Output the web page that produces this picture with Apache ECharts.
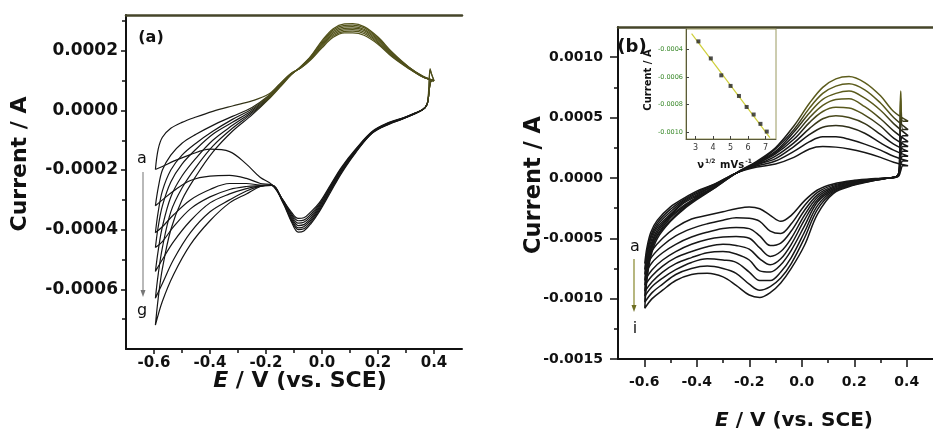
<!DOCTYPE html>
<html>
<head>
<meta charset="utf-8" />
<title>CV curves</title>
<script src="https://cdn.jsdelivr.net/npm/echarts@6.0.0/dist/echarts.min.js"></script>
</head>
<body style="margin:0;background:#fff">
<div id="main" style="width: 933px;height:433px;"></div>
<script type="text/javascript">
var myChart = echarts.init(document.getElementById('main'));

// ---- panel (a): 7 cycles, a..g. forward (anodic) branch, read at these potentials
var aUpE = [-0.595, -0.585, -0.57, -0.54, -0.5, -0.45, -0.39, -0.32, -0.25, -0.19, -0.15, -0.11, -0.075, -0.04, 0.0, 0.04, 0.08, 0.11, 0.15, 0.2, 0.25, 0.31, 0.36, 0.4];
var aUpA = [-0.000198, -0.00013, -0.00009, -0.00006, -0.00004, -0.000022, -0.000003, 0.000015, 0.000032, 0.000055, 0.00009, 0.000125, 0.000143, 0.00017, 0.00021, 0.000245, 0.00026, 0.00026, 0.000252, 0.000222, 0.00018, 0.00014, 0.000112, 0.0001];
var aUpB = [-0.00032, -0.00026, -0.0002, -0.00015, -0.00011, -0.00008, -0.00005, -0.00002, 0.00001, 0.00005, 0.000088, 0.000124, 0.000143, 0.000172, 0.000214, 0.00025, 0.000265, 0.000266, 0.000258, 0.000226, 0.000182, 0.000141, 0.000112, 0.0001];
var aUpC = [-0.00041, -0.00034, -0.00027, -0.0002, -0.00015, -0.00011, -0.00007, -0.00003, 0.000005, 0.000048, 0.000086, 0.000123, 0.000144, 0.000174, 0.000218, 0.000255, 0.00027, 0.000271, 0.000263, 0.00023, 0.000185, 0.000142, 0.000113, 0.0001];
var aUpD = [-0.00046, -0.00039, -0.00032, -0.00024, -0.00018, -0.00013, -0.00008, -0.00004, 0.0, 0.000045, 0.000084, 0.000122, 0.000145, 0.000176, 0.000222, 0.00026, 0.000275, 0.000276, 0.000268, 0.000234, 0.000188, 0.000143, 0.000113, 0.0001];
var aUpE_ = [-0.00054, -0.00047, -0.00039, -0.00029, -0.00022, -0.00016, -0.0001, -0.00005, -0.000005, 0.000042, 0.000082, 0.000121, 0.000146, 0.000178, 0.000226, 0.000265, 0.00028, 0.000281, 0.000272, 0.000238, 0.00019, 0.000144, 0.000114, 0.0001];
var aUpF = [-0.00063, -0.00055, -0.00046, -0.00034, -0.00026, -0.00019, -0.00012, -0.00006, -0.00001, 0.00004, 0.00008, 0.00012, 0.000147, 0.00018, 0.00023, 0.00027, 0.000285, 0.000286, 0.000277, 0.000242, 0.000193, 0.000145, 0.000114, 0.0001];
var aUpG = [-0.00072, -0.00063, -0.00053, -0.0004, -0.0003, -0.00022, -0.00014, -0.00007, -0.000015, 0.000038, 0.000078, 0.000119, 0.000148, 0.000182, 0.000234, 0.000274, 0.00029, 0.000291, 0.000281, 0.000246, 0.000196, 0.000146, 0.000115, 0.0001];

// reverse (cathodic) branch
var aDnE = [0.392, 0.386, 0.381, 0.375, 0.36, 0.33, 0.29, 0.24, 0.18, 0.12, 0.07, 0.03, -0.01, -0.04, -0.065, -0.085, -0.11, -0.14, -0.18, -0.22, -0.27, -0.33, -0.4, -0.47, -0.53, -0.57, -0.595];
var aDnA = [0.00012, 0.00014, 0.00007, 0.00002, 0.000003, -0.00001, -0.000025, -0.00004, -0.00007, -0.00013, -0.00019, -0.00025, -0.00031, -0.00034, -0.00036, -0.000362, -0.00034, -0.0003, -0.000248, -0.000225, -0.00018, -0.000138, -0.00013, -0.000148, -0.00017, -0.000188, -0.000198];
var aDnB = [0.0001, 0.00009, 0.00005, 0.00002, 0.000003, -0.00001, -0.000026, -0.000041, -0.000071, -0.000132, -0.000193, -0.000254, -0.000315, -0.000348, -0.000368, -0.00037, -0.000345, -0.0003, -0.000249, -0.000245, -0.000228, -0.000218, -0.00022, -0.000235, -0.00027, -0.0003, -0.00032];
var aDnC = [0.0001, 0.00009, 0.00005, 0.00002, 0.000003, -0.00001, -0.000026, -0.000042, -0.000072, -0.000134, -0.000196, -0.000258, -0.00032, -0.000355, -0.000375, -0.000378, -0.00035, -0.000301, -0.00025, -0.00025, -0.000245, -0.000245, -0.000265, -0.0003, -0.00035, -0.00039, -0.00041];
var aDnD = [0.0001, 0.00009, 0.00005, 0.00002, 0.000003, -0.000011, -0.000027, -0.000043, -0.000073, -0.000136, -0.0002, -0.000262, -0.000325, -0.000362, -0.000383, -0.000386, -0.000356, -0.000303, -0.00025, -0.000252, -0.000255, -0.000265, -0.00029, -0.00033, -0.00039, -0.00044, -0.00046];
var aDnE_ = [0.0001, 0.00009, 0.00005, 0.00002, 0.000003, -0.000011, -0.000027, -0.000044, -0.000074, -0.000138, -0.000203, -0.000266, -0.00033, -0.000368, -0.00039, -0.000394, -0.000362, -0.000305, -0.00025, -0.000253, -0.000262, -0.00028, -0.00031, -0.00037, -0.00044, -0.0005, -0.00054];
var aDnF = [0.00012, 0.000135, 0.00006, 0.00002, 0.000003, -0.000012, -0.000028, -0.000045, -0.000075, -0.00014, -0.000206, -0.00027, -0.000335, -0.000374, -0.000397, -0.0004, -0.000367, -0.000307, -0.000251, -0.000254, -0.00027, -0.0003, -0.00034, -0.00041, -0.0005, -0.00058, -0.00063];
var aDnG = [0.0001, 0.00009, 0.00005, 0.00002, 0.000003, -0.000012, -0.000028, -0.000046, -0.000076, -0.000142, -0.00021, -0.000275, -0.00034, -0.00038, -0.000404, -0.000408, -0.000372, -0.000309, -0.000251, -0.000255, -0.00028, -0.00031, -0.00037, -0.00045, -0.00055, -0.00064, -0.00072];

// ---- panel (b): 9 cycles, a..i
var bUpE = [-0.598, -0.59, -0.575, -0.55, -0.5, -0.45, -0.4, -0.33, -0.25, -0.17, -0.1, -0.03, 0.03, 0.08, 0.13, 0.18, 0.24, 0.3, 0.35, 0.405];
var bUpA = [-0.00071, -0.00058, -0.00045, -0.00035, -0.00024, -0.00017, -0.00011, -0.00005, 0.00004, 0.00009, 0.000115, 0.00017, 0.00024, 0.00026, 0.000255, 0.00024, 0.00021, 0.00017, 0.00013, 0.0001];
var bUpB = [-0.00076, -0.00062, -0.00048, -0.00037, -0.00026, -0.00018, -0.00012, -0.00005, 0.00004, 0.0001, 0.00014, 0.00022, 0.0003, 0.00034, 0.00034, 0.00032, 0.00028, 0.00023, 0.00018, 0.00014];
var bUpC = [-0.0008, -0.00065, -0.0005, -0.00039, -0.00028, -0.00019, -0.00013, -0.00006, 0.00004, 0.00011, 0.00016, 0.00026, 0.00036, 0.00042, 0.000434, 0.00042, 0.00037, 0.00029, 0.00023, 0.00018];
var bUpD = [-0.00085, -0.00069, -0.00053, -0.00041, -0.0003, -0.0002, -0.00014, -0.00006, 0.00004, 0.00011, 0.00018, 0.00029, 0.00041, 0.00049, 0.000515, 0.0005, 0.00045, 0.00036, 0.00028, 0.00022];
var bUpE_ = [-0.00089, -0.00073, -0.00056, -0.00043, -0.00031, -0.00021, -0.00015, -0.00007, 0.00004, 0.00012, 0.0002, 0.00032, 0.00046, 0.00055, 0.000585, 0.00058, 0.00052, 0.00043, 0.00033, 0.00026];
var bUpF = [-0.00094, -0.00076, -0.00058, -0.00045, -0.00032, -0.00023, -0.00016, -0.00007, 0.00004, 0.00012, 0.00021, 0.00035, 0.0005, 0.0006, 0.00065, 0.000655, 0.00059, 0.00049, 0.00039, 0.0003];
var bUpG = [-0.00098, -0.00079, -0.0006, -0.00047, -0.00033, -0.00024, -0.00017, -0.00007, 0.00004, 0.00013, 0.00022, 0.00038, 0.00054, 0.00065, 0.0007, 0.00072, 0.00066, 0.00056, 0.00045, 0.00035];
var bUpH = [-0.00103, -0.00082, -0.00062, -0.00048, -0.00035, -0.00025, -0.00017, -0.00008, 0.00004, 0.00013, 0.00024, 0.0004, 0.00058, 0.0007, 0.00076, 0.00078, 0.00073, 0.00062, 0.0005, 0.0004];
var bUpI = [-0.00108, -0.00085, -0.00065, -0.0005, -0.00036, -0.00026, -0.00018, -0.00008, 0.00004, 0.00014, 0.00025, 0.00043, 0.00062, 0.00075, 0.00082, 0.00084, 0.00079, 0.00068, 0.00055, 0.00047];

var bDnE = [0.385, 0.377, 0.371, 0.36, 0.33, 0.28, 0.2, 0.12, 0.06, 0.01, -0.04, -0.08, -0.12, -0.16, -0.2, -0.25, -0.3, -0.36, -0.42, -0.48, -0.53, -0.57, -0.598];
var bDnA = [0.0001, 0.00006, 0.00002, 0.000005, 0, -0.000005, -0.00002, -0.00005, -0.0001, -0.00019, -0.00031, -0.00036, -0.00031, -0.000255, -0.00024, -0.000255, -0.00028, -0.00031, -0.00034, -0.00041, -0.0005, -0.0006, -0.00071];
var bDnB = [0.00014, 0.00011, 0.00003, 0.000005, 0, -0.00001, -0.000025, -0.00006, -0.00012, -0.00023, -0.00038, -0.00046, -0.00044, -0.00036, -0.000335, -0.00033, -0.00035, -0.00038, -0.00042, -0.00048, -0.00056, -0.00065, -0.00076];
var bDnC = [0.00018, 0.00015, 0.00004, 0.000008, 0, -0.00001, -0.00003, -0.00007, -0.00014, -0.00027, -0.00044, -0.00054, -0.00056, -0.00048, -0.00042, -0.00041, -0.00042, -0.00045, -0.00049, -0.00055, -0.00062, -0.0007, -0.0008];
var bDnD = [0.00022, 0.00018, 0.00004, 0.000008, 0, -0.000012, -0.000035, -0.00008, -0.00016, -0.00031, -0.0005, -0.00061, -0.00065, -0.00058, -0.0005, -0.000485, -0.00049, -0.00051, -0.00055, -0.00061, -0.00068, -0.00076, -0.00085];
var bDnE_ = [0.00026, 0.00021, 0.00005, 0.00001, 0, -0.000014, -0.00004, -0.00009, -0.00018, -0.00035, -0.00055, -0.00067, -0.00072, -0.00067, -0.00059, -0.00056, -0.00055, -0.00057, -0.00061, -0.00066, -0.00073, -0.00081, -0.00089];
var bDnF = [0.0003, 0.00025, 0.00005, 0.00001, 0, -0.000016, -0.000045, -0.0001, -0.0002, -0.0004, -0.0006, -0.00072, -0.00078, -0.00077, -0.00068, -0.00063, -0.00061, -0.00062, -0.00066, -0.00071, -0.00078, -0.00086, -0.00094];
var bDnG = [0.00035, 0.00029, 0.00005, 0.00001, 0, -0.000018, -0.00005, -0.00011, -0.00023, -0.00045, -0.00066, -0.00078, -0.00085, -0.00085, -0.00078, -0.0007, -0.00068, -0.00067, -0.0007, -0.00076, -0.00083, -0.0009, -0.00098];
var bDnH = [0.0004, 0.00066, 0.00005, 0.00001, 0, -0.00002, -0.000055, -0.00012, -0.00026, -0.0005, -0.00071, -0.00083, -0.0009, -0.00093, -0.00088, -0.00079, -0.00075, -0.00073, -0.00075, -0.0008, -0.00088, -0.00095, -0.00103];
var bDnI = [0.00047, 0.00072, 0.00006, 0.00001, 0, -0.00002, -0.00006, -0.00013, -0.0003, -0.00056, -0.00075, -0.00087, -0.00095, -0.00099, -0.00097, -0.00089, -0.00082, -0.00079, -0.0008, -0.00085, -0.00093, -0.001, -0.00108];

// ---- inset: cathodic peak current vs sqrt(scan rate)
var insetX = [3.16, 3.87, 4.47, 5.0, 5.48, 5.92, 6.32, 6.71, 7.07];
var insetY = [-0.00034, -0.000464, -0.000587, -0.000664, -0.000737, -0.000817, -0.000872, -0.00094, -0.000996];
var fitX = [2.77, 7.25];
var fitY = [-0.000283, -0.00104];

// ---- ticks
var xMajor = [-0.6, -0.4, -0.2, 0, 0.2, 0.4];
var xMinor = [-0.5, -0.3, -0.1, 0.1, 0.3];
var aYMajor = [-0.0006, -0.0004, -0.0002, 0, 0.0002];
var aYMinor = [-0.0007, -0.0005, -0.0003, -0.0001, 0.0001, 0.0003];
var bYMajor = [-0.0015, -0.001, -0.0005, 0, 0.0005, 0.001];
var bYMinor = [-0.00125, -0.00075, -0.00025, 0.00025, 0.00075];
var insetXTicks = [3, 4, 5, 6, 7];
var insetYTicks = [-0.001, -0.0008, -0.0006, -0.0004];

var FONT = 'DejaVu Sans';
var INK = '#111';

function zip(xs, ys) {
  var out = [];
  for (var i = 0; i < xs.length; i++) out.push([xs[i], ys[i]]);
  return out;
}
function loop(upE, upI, dnE, dnI) {
  return zip(upE, upI).concat(zip(dnE, dnI));
}

var gradA = new echarts.graphic.LinearGradient(0, 15, 0, 349, [
  { offset: 0, color: '#55551a' }, { offset: 0.24, color: '#4a4a1a' },
  { offset: 0.3, color: '#151515' }, { offset: 1, color: '#151515' }
], true);
var gradB = new echarts.graphic.LinearGradient(0, 27, 0, 359, [
  { offset: 0, color: '#66661c' }, { offset: 0.25, color: '#58581c' },
  { offset: 0.33, color: '#161616' }, { offset: 1, color: '#161616' }
], true);

var seriesList = [];
[[aUpA, aDnA], [aUpB, aDnB], [aUpC, aDnC], [aUpD, aDnD], [aUpE_, aDnE_], [aUpF, aDnF], [aUpG, aDnG]].forEach(function (c) {
  seriesList.push({
    type: 'line', xAxisIndex: 0, yAxisIndex: 0, data: loop(aUpE, c[0], aDnE, c[1]),
    showSymbol: false, smooth: 0.35, silent: true,
    lineStyle: { width: 1.2, color: gradA }
  });
});
[[bUpA, bDnA], [bUpB, bDnB], [bUpC, bDnC], [bUpD, bDnD], [bUpE_, bDnE_], [bUpF, bDnF], [bUpG, bDnG], [bUpH, bDnH], [bUpI, bDnI]].forEach(function (c) {
  seriesList.push({
    type: 'line', xAxisIndex: 3, yAxisIndex: 2, data: loop(bUpE, c[0], bDnE, c[1]),
    showSymbol: false, smooth: 0.35, silent: true,
    lineStyle: { width: 1.5, color: gradB }
  });
});
seriesList.push({
  type: 'line', xAxisIndex: 6, yAxisIndex: 4, data: zip(fitX, fitY), z: 10,
  showSymbol: false, silent: true, lineStyle: { width: 1.2, color: '#cfcf3a' }
});
seriesList.push({
  type: 'scatter', xAxisIndex: 6, yAxisIndex: 4, data: zip(insetX, insetY), z: 11,
  symbol: 'rect', symbolSize: 4, silent: true, itemStyle: { color: '#222' }
});

function lbl(size, extra) {
  var o = { fontFamily: FONT, fontWeight: 'bold', fontSize: size, color: INK };
  for (var k in extra) o[k] = extra[k];
  return o;
}

function xAxes(grid, major, minor, size, margin, majLen, minLen) {
  return [
    { gridIndex: grid, type: 'value', min: -0.7, max: 0.5, position: 'bottom',
      axisLine: { onZero: false, lineStyle: { color: INK, width: 2 } },
      axisTick: { length: majLen, customValues: major, lineStyle: { color: INK, width: 1.5 } },
      axisLabel: lbl(size, { margin: margin, customValues: major, formatter: function (v) { return v.toFixed(1); } }),
      splitLine: { show: false } },
    { gridIndex: grid, type: 'value', min: -0.7, max: 0.5, position: 'bottom',
      axisLine: { show: false, onZero: false },
      axisTick: { length: minLen, customValues: minor, lineStyle: { color: INK, width: 1.5 } },
      axisLabel: { show: false }, splitLine: { show: false } },
    { gridIndex: grid, type: 'value', min: -0.7, max: 0.5, position: 'top',
      axisLine: { onZero: false, lineStyle: { color: '#45452a', width: 2.5 } },
      axisTick: { show: false }, axisLabel: { show: false }, splitLine: { show: false } }
  ];
}
function yAxes(grid, min, max, major, minor, size, margin, majLen, minLen) {
  return [
    { gridIndex: grid, type: 'value', min: min, max: max, position: 'left',
      axisLine: { onZero: false, lineStyle: { color: INK, width: 2 } },
      axisTick: { length: majLen, customValues: major, lineStyle: { color: INK, width: 1.5 } },
      axisLabel: lbl(size, { margin: margin, customValues: major, formatter: function (v) { return v.toFixed(4); } }),
      splitLine: { show: false } },
    { gridIndex: grid, type: 'value', min: min, max: max, position: 'left',
      axisLine: { show: false, onZero: false },
      axisTick: { length: minLen, customValues: minor, lineStyle: { color: INK, width: 1.5 } },
      axisLabel: { show: false }, splitLine: { show: false } }
  ];
}

var xAxisList = xAxes(0, xMajor, xMinor, 15, 7, 5, 4)
  .concat(xAxes(1, xMajor, xMinor, 14, 16, 8, 4))
  .concat([{
    gridIndex: 2, type: 'value', min: 2.45, max: 7.6, position: 'bottom', z: 10,
    axisLine: { onZero: false, lineStyle: { color: '#5a5a3a', width: 1 } },
    axisTick: { inside: true, length: 3, customValues: insetXTicks, lineStyle: { color: '#444' } },
    axisLabel: { customValues: insetXTicks, margin: 5, fontFamily: FONT, fontSize: 8, color: '#333' },
    splitLine: { show: false }
  }]);
var yAxisList = yAxes(0, -0.0008, 0.00032, aYMajor, aYMinor, 17, 8, 5, 4)
  .concat(yAxes(1, -0.0015, 0.00125, bYMajor, bYMinor, 14, 15, 8, 4))
  .concat([{
    gridIndex: 2, type: 'value', min: -0.00105, max: -0.00025, position: 'left', z: 10,
    axisLine: { onZero: false, lineStyle: { color: '#5a5a3a', width: 1 } },
    axisTick: { inside: true, length: 3, customValues: insetYTicks, lineStyle: { color: '#444' } },
    axisLabel: { customValues: insetYTicks, margin: 3, fontFamily: FONT, fontSize: 6.5, color: '#3b8a2c',
      formatter: function (v) { return v.toFixed(4); } },
    splitLine: { show: false }
  }]);

function txt(x, y, text, size, rot, extra) {
  var st = { text: text, fontFamily: FONT, fontWeight: 'bold', fontSize: size, fill: INK,
    align: 'center', verticalAlign: 'middle' };
  for (var k in extra) st[k] = extra[k];
  return { type: 'text', x: x, y: y, rotation: rot || 0, z: 20, style: st };
}

var option = {
  animation: false,
  backgroundColor: '#fff',
  grid: [
    { left: 126, top: 15, width: 336, height: 334 },
    { left: 618, top: 27, width: 327, height: 332 },
    { left: 686, top: 29, width: 90, height: 110, show: true, z: 5,
      backgroundColor: '#fff', borderColor: '#9a9a60', borderWidth: 1 }
  ],
  xAxis: xAxisList,
  yAxis: yAxisList,
  series: seriesList,
  graphic: [
    txt(20, 164, 'Current / A', 22, Math.PI / 2),
    txt(300, 381, '{i|E} / V (vs. SCE)', 22, 0, { rich: { i: { fontStyle: 'italic', fontWeight: 'bold', fontSize: 22, fontFamily: FONT } } }),
    txt(534, 185, 'Current / A', 22.5, Math.PI / 2),
    txt(794, 421, '{i|E} / V (vs. SCE)', 20, 0, { rich: { i: { fontStyle: 'italic', fontWeight: 'bold', fontSize: 20, fontFamily: FONT } } }),
    txt(151, 38, '(a)', 16),
    txt(632, 47, '(b)', 18),
    txt(648, 80, 'Current / A', 10, Math.PI / 2),
    txt(725, 165, '{t|ν}{s|1/2} {t|mVs}{s|-1}', 10, 0, { rich: {
      t: { fontFamily: FONT, fontWeight: 'bold', fontSize: 10 },
      s: { fontFamily: FONT, fontWeight: 'bold', fontSize: 6, padding: [0, 1, 7, 1] } } }),
    txt(142, 159, 'a', 16, 0, { fontWeight: 'normal' }),
    txt(142, 311, 'g', 16, 0, { fontWeight: 'normal' }),
    txt(635, 247, 'a', 16, 0, { fontWeight: 'normal' }),
    txt(635, 329, 'i', 16, 0, { fontWeight: 'normal' }),
    { type: 'line', z: 20, shape: { x1: 143, y1: 172, x2: 143, y2: 291 }, style: { stroke: '#8a8a8a', lineWidth: 1.2 } },
    { type: 'polygon', z: 20, shape: { points: [[140.5, 290], [145.5, 290], [143, 297]] }, style: { fill: '#777' } },
    { type: 'line', z: 20, shape: { x1: 634, y1: 259, x2: 634, y2: 306 }, style: { stroke: '#86862a', lineWidth: 1.2 } },
    { type: 'polygon', z: 20, shape: { points: [[631.5, 305], [636.5, 305], [634, 312]] }, style: { fill: '#6e6e22' } }
  ]
};

myChart.setOption(option);
</script>
</body>
</html>
